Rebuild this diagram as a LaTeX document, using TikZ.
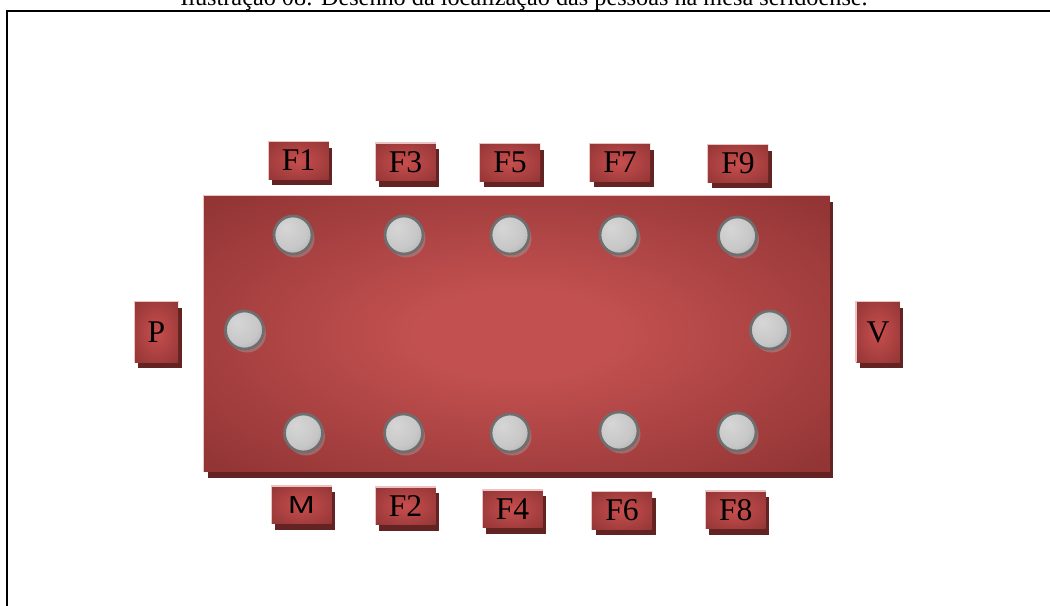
\documentclass[tikz,border=0pt]{standalone}
\usepackage{fontspec}
\setmainfont{Liberation Serif}
\newfontfamily\labelsans{Liberation Sans}
\usetikzlibrary{shadows}
\definecolor{wine}{RGB}{147,53,53}
\definecolor{winelight}{RGB}{194,80,80}
\definecolor{cardlight}{RGB}{200,78,78}
\definecolor{winedark}{RGB}{100,35,35}
\definecolor{rosy}{RGB}{235,195,195}
\definecolor{steel}{RGB}{110,110,110}
\pgfdeclareradialshading{tabletop}{\pgfpoint{0bp}{0bp}}{color(0bp)=(winelight); color(8bp)=(winelight); color(34bp)=(wine); color(80bp)=(wine)}
\pgfdeclareradialshading{cardface}{\pgfpoint{0bp}{0bp}}{color(0bp)=(cardlight); color(40bp)=(wine!95!black); color(80bp)=(wine!95!black)}
\pgfdeclareradialshading{seatball}{\pgfpoint{-10bp}{10bp}}{color(0bp)=(black!16); color(25bp)=(black!22); color(55bp)=(black!44); color(80bp)=(black!44)}
\tikzset{
  table top/.style={shading=tabletop,minimum width=12.52cm,minimum height=5.52cm,inner sep=0pt,
    general shadow={fill=winedark,shadow xshift=0.07cm,shadow yshift=-0.12cm}},
  card/.style={shading=cardface,minimum width=1.2cm,minimum height=0.75cm,inner sep=0pt,
    font=\fontsize{18}{20}\selectfont,
    general shadow={fill=winedark,shadow xshift=0.07cm,shadow yshift=-0.12cm}},
  upright card/.style={card,minimum width=0.87cm,minimum height=1.2cm},
  seat/.style={circle,draw=steel,line width=0.055cm,shading=seatball,minimum size=0.76cm,inner sep=0pt,
    general shadow={fill=black!35,opacity=0.4,shadow xshift=0.05cm,shadow yshift=-0.07cm}},
  rim/.style={rosy,line width=0.025cm},
}
\begin{document}
\begin{tikzpicture}[x=0.02cm,y=-0.02cm]
  \useasboundingbox (0,0) rectangle (1050,605);
  \node[anchor=base,font=\fontsize{13.8}{16}\selectfont] (caption) at (524,6)
    {Ilustração 08: Desenho da localização das pessoas na mesa seridoense.};
  \draw[line width=0.04cm] (7,11) rectangle (1080,640);
  % mesa
  \node[table top] (mesa) at (517,334) {};
  \draw[rim] (mesa.south west) -- (mesa.north west) -- (mesa.north east);
  % lugares
  \foreach \n/\x/\y in {1/293/235,2/404/235,3/510/235,4/619/235,5/737.5/236,
    6/244.5/330,7/769.5/330,
    8/303.5/433,9/403.5/433,10/510/433,11/619/431,12/737/432}
    \node[seat] (seat\n) at (\x,\y) {};
  % pessoas
  \foreach \name/\x/\y in {F1/298.5/160.5,F3/405.5/162,F5/510/162.5,F7/620/162.5,F9/738/163.5,
    F2/405.5/506,F4/512.5/509,F6/622/510.5,F8/735.7/510}
    \node[card] (card\name) at (\x,\y) {\name};
  \node[card,font=\labelsans\fontsize{14}{16}\selectfont] (cardM) at (301.5,505) {\scalebox{1.3}[1]{M}};
  \node[upright card] (cardP) at (156.5,332) {P};
  \node[upright card] (cardV) at (878,332) {V};
  \foreach \name in {F1,F3,F5,F7,F9,F2,F4,F6,F8,M,P,V}
    \draw[rim] (card\name.south west) -- (card\name.north west) -- (card\name.north east);
\end{tikzpicture}
\end{document}
